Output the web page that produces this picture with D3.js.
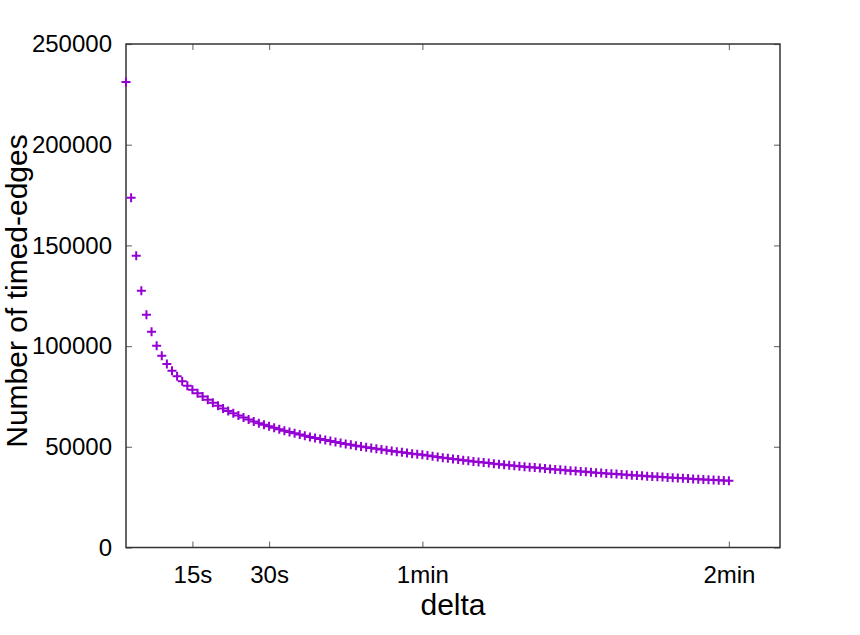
<!DOCTYPE html>
<html>
<head>
    <meta charset="utf-8">
    <title>Timed edges vs delta</title>
    <script src="https://cdnjs.cloudflare.com/ajax/libs/d3/7.6.1/d3.min.js"></script>
    <style>
        html, body {
            margin: 0;
            padding: 0;
            background-color: white;
        }
        #chart text {
            font-family: "Liberation Sans", Arial, sans-serif;
            fill: black;
        }
    </style>
</head>
<body>
    <div id="chart"></div>
    <script>
        // delta in seconds, one point per second from 2s to 120s
        const deltaSeconds = d3.range(2, 121);

        const timedEdges = [
            231100, 173700, 144900, 127500, 115600, 107100, 100200, 95200, 91100, 87800,
            85000, 82500, 80300, 78300, 76600, 75000, 73400, 71900, 70400, 69000,
            67800, 66600, 65500, 64500, 63500, 62600, 61700, 60900, 60200,
            59440, 58710, 58010, 57350, 56710, 56090, 55500, 54920, 54370, 53840,
            53330, 52830, 52350, 51890, 51440, 51000, 50580, 50170, 49770, 49380,
            49000, 48630, 48270, 47920, 47580, 47250, 46930, 46610, 46300, 46000,
            45640, 45290, 44950, 44610, 44280, 43970, 43650, 43350, 43050, 42750,
            42470, 42190, 41910, 41640, 41380, 41120, 40860, 40610, 40370, 40130,
            39890, 39660, 39430, 39210, 38990, 38770, 38560, 38350, 38150, 37950,
            37750, 37550, 37360, 37170, 36980, 36800, 36620, 36440, 36270, 36090,
            35920, 35760, 35590, 35430, 35270, 35110, 34950, 34800, 34650, 34500,
            34350, 34200, 34060, 33920, 33780, 33640, 33500, 33370, 33230, 33100
        ];

        const xTickValues = [15, 30, 60, 120];
        const xTickLabels = ["15s", "30s", "1min", "2min"];
        const yTickValues = [0, 50000, 100000, 150000, 200000, 250000];

        const width = 860;
        const height = 635;
        const margin = { top: 44, right: 80, bottom: 87.5, left: 126 };
        const plotW = width - margin.left - margin.right;
        const plotH = height - margin.top - margin.bottom;

        const svg = d3.select("#chart")
            .append("svg")
            .attr("width", width)
            .attr("height", height);

        const g = svg.append("g")
            .attr("transform", "translate(" + margin.left + "," + margin.top + ")");

        const xScale = d3.scaleLinear()
            .domain([2, 130])
            .range([0, plotW]);

        const yScale = d3.scaleLinear()
            .domain([0, 250000])
            .range([plotH, 0]);

        // axes with inward ticks (gnuplot style), mirrored on top/right
        const xAxis = d3.axisBottom(xScale)
            .tickValues(xTickValues)
            .tickFormat((d, i) => xTickLabels[i])
            .tickSizeInner(-6)
            .tickSizeOuter(0)
            .tickPadding(18);

        const yAxis = d3.axisLeft(yScale)
            .tickValues(yTickValues)
            .tickFormat(d3.format("d"))
            .tickSizeInner(-6)
            .tickSizeOuter(0)
            .tickPadding(14);

        const xg = g.append("g")
            .attr("transform", "translate(0," + plotH + ")")
            .call(xAxis);

        const yg = g.append("g")
            .call(yAxis);

        const xTop = g.append("g")
            .call(d3.axisTop(xScale).tickValues(xTickValues).tickFormat("").tickSizeInner(-6).tickSizeOuter(0));

        const yRight = g.append("g")
            .attr("transform", "translate(" + plotW + ",0)")
            .call(d3.axisRight(yScale).tickValues(yTickValues).tickFormat("").tickSizeInner(-6).tickSizeOuter(0));

        [xg, yg, xTop, yRight].forEach(a => {
            a.select(".domain").remove();
            a.selectAll(".tick line").attr("stroke", "#777").attr("stroke-width", 1.2);
            a.selectAll("text").style("font-size", "24px");
        });

        // frame
        g.append("rect")
            .attr("x", 0)
            .attr("y", 0)
            .attr("width", plotW)
            .attr("height", plotH)
            .attr("fill", "none")
            .attr("stroke", "#333")
            .attr("stroke-width", 1.5);

        // plus markers
        const s = 4.5;
        const pts = g.append("g")
            .attr("stroke", "#9400d3")
            .attr("stroke-width", 2)
            .attr("fill", "none");

        pts.selectAll("path")
            .data(deltaSeconds.map((d, i) => [d, timedEdges[i]]))
            .enter()
            .append("path")
            .attr("d", d => {
                const cx = xScale(d[0]);
                const cy = yScale(d[1]);
                return "M" + (cx - s) + "," + cy + "H" + (cx + s) + "M" + cx + "," + (cy - s) + "V" + (cy + s);
            });

        // axis titles
        svg.append("text")
            .attr("x", margin.left + plotW / 2)
            .attr("y", 615)
            .attr("text-anchor", "middle")
            .style("font-size", "30px")
            .text("delta");

        svg.append("text")
            .attr("transform", "translate(27," + 291 + ") rotate(-90)")
            .attr("text-anchor", "middle")
            .style("font-size", "30px")
            .text("Number of timed-edges");
    </script>
</body>
</html>
